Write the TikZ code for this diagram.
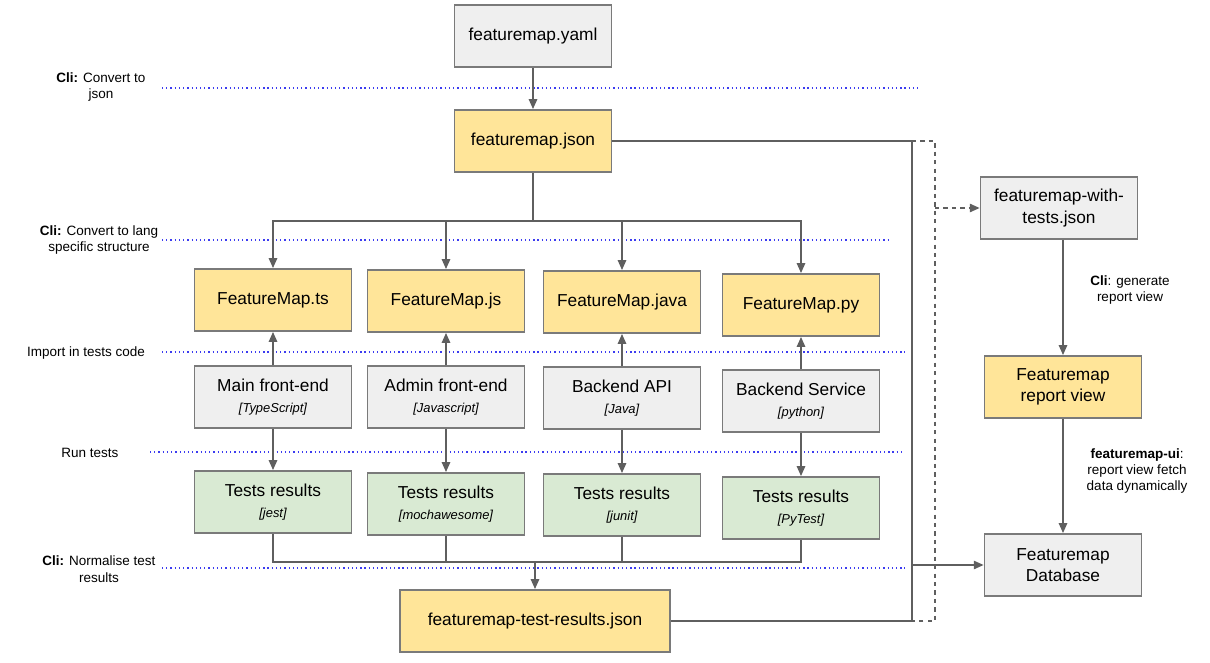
\documentclass[tikz,border=0pt]{standalone}
\usepackage{fontspec}
\setmainfont{Liberation Sans}
\usetikzlibrary{arrows.meta}

\definecolor{fmyellow}{HTML}{FFE599}
\definecolor{fmgreen}{HTML}{D9EAD3}
\definecolor{fmgrey}{HTML}{EFEFEF}
\definecolor{fmedge}{HTML}{7A7A7A}
\definecolor{fmline}{HTML}{5F5F5F}
\definecolor{fmdots}{HTML}{3C3CF0}

\tikzset{
  box/.style={draw=fmedge, line width=1.1pt, minimum width=3.93cm,
    minimum height=1.56cm, align=center, inner sep=1pt,
    font=\fontsize{12.3}{15}\selectfont},
  yellowbox/.style={box, fill=fmyellow},
  greenbox/.style={box, fill=fmgreen},
  greybox/.style={box, fill=fmgrey},
  conn/.style={draw=fmline, line width=1pt},
  arr/.style={conn, -{Triangle[length=7pt,width=6pt]}},
  stage/.style={draw=fmdots, line width=0.9pt, dash pattern=on 0.9pt off 2.1pt},
  note/.style={align=center, font=\fontsize{9.6}{11.7}\selectfont},
}
\newcommand{\langtag}[1]{\\[0pt]{\fontsize{9.2}{10}\selectfont\itshape[#1]}}

\begin{document}
\begin{tikzpicture}[x=0.025cm, y=-0.025cm]
  \useasboundingbox (0,0) rectangle (1210,663);

  % stage separators
  \draw[stage] (162,88)--(918,88) (162,240)--(890,240) (162,352)--(905,352)
               (150,452)--(905,452) (162,568)--(905,568);
  \node[note] (lblyaml) at (101,87) {\textbf{Cli:} Convert to\\json};
  \node[note] (lbllang) at (99,240) {\textbf{Cli:} Convert to lang\\specific structure};
  \node[note] (lblimport) at (86,353) {Import in tests code};
  \node[note] (lblrun) at (90,453) {Run tests};
  \node[note] (lblnorm) at (99,569) {\textbf{Cli:} Normalise test\\results};

  \node[greybox] (yaml) at (533,36) {featuremap.yaml};
  \node[yellowbox] (json) at (533,141) {featuremap.json};

  \node[yellowbox] (ts) at (273,300) {FeatureMap.ts};
  \node[yellowbox] (js) at (446,301) {FeatureMap.js};
  \node[yellowbox] (java) at (622,302) {FeatureMap.java};
  \node[yellowbox] (py) at (801,305) {FeatureMap.py};

  \node[greybox] (mainfe) at (273,397) {Main front-end\langtag{TypeScript}};
  \node[greybox] (adminfe) at (446,397) {Admin front-end\langtag{Javascript}};
  \node[greybox] (api) at (622,398) {Backend API\langtag{Java}};
  \node[greybox] (service) at (801,401) {Backend Service\langtag{python}};

  \node[greenbox] (jest) at (273,502) {Tests results\langtag{jest}};
  \node[greenbox] (mocha) at (446,504) {Tests results\langtag{mochawesome}};
  \node[greenbox] (junit) at (622,505) {Tests results\langtag{junit}};
  \node[greenbox] (pytest) at (801,508) {Tests results\langtag{PyTest}};

  \node[yellowbox, minimum width=6.75cm] (results) at (535,621) {featuremap-test-results.json};

  \node[greybox] (withtests) at (1059,208) {featuremap-with-\\tests.json};
  \node[yellowbox] (report) at (1063,387) {Featuremap\\report view};
  \node[greybox] (db) at (1063,565) {Featuremap\\Database};

  \node[note] (lblreport) at (1130,290) {\textbf{Cli}: generate\\report view};
  \node[note] (lblui) at (1137,471) {\textbf{featuremap-ui}:\\report view fetch\\data dynamically};

  \coordinate (split) at (533,221);
  \coordinate (bus) at (535,562);
  \coordinate (jointop) at (912,141);
  \coordinate (joindb) at (912,565);
  \coordinate (joinbot) at (912,621);
  \coordinate (dashtop) at (935,141);
  \coordinate (dashmid) at (935,208);
  \coordinate (dashbot) at (935,621);

  \draw[arr] (yaml) -- (json);
  \draw[conn] (json) -- (split);
  \foreach \m in {ts,js,java,py}
    \draw[arr] (split) -| (\m.north);

  \draw[arr] (mainfe) -- (ts);
  \draw[arr] (adminfe) -- (js);
  \draw[arr] (api) -- (java);
  \draw[arr] (service) -- (py);

  \draw[arr] (mainfe) -- (jest);
  \draw[arr] (adminfe) -- (mocha);
  \draw[arr] (api) -- (junit);
  \draw[arr] (service) -- (pytest);

  \foreach \m in {jest,mocha,junit,pytest}
    \draw[conn] (\m.south) |- (bus);
  \draw[arr] (bus) -- (results);

  \draw[conn] (json.east) -- (jointop) -- (joinbot) -- (results.east);
  \draw[arr] (joindb) -- (db.west);
  \draw[conn, dashed] (jointop) -- (dashtop) -- (dashbot) -- (joinbot);
  \draw[arr, dashed] (dashmid) -- (withtests.west);

  \draw[arr] (withtests.south -| report) -- (report);
  \draw[arr] (report) -- (db);
\end{tikzpicture}
\end{document}
